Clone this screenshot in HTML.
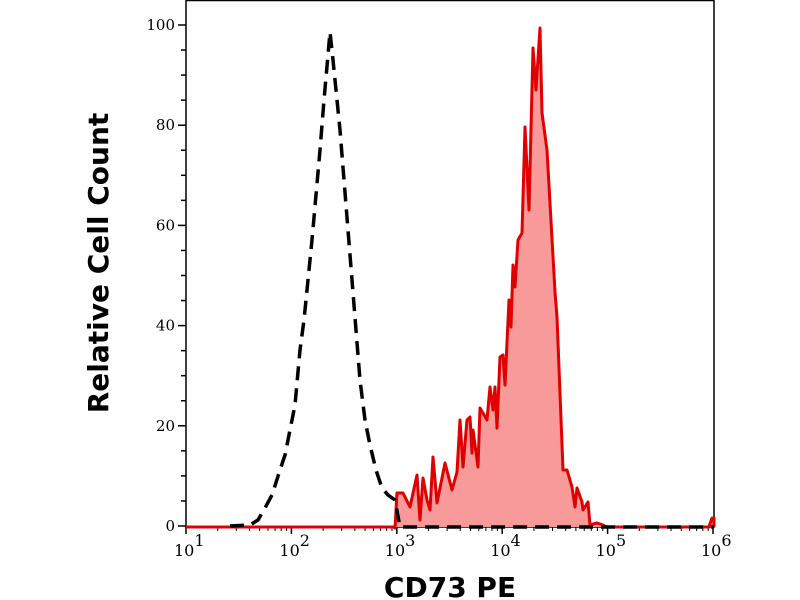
<!DOCTYPE html>
<html><head><meta charset="utf-8"><style>
html,body{margin:0;padding:0;background:#fff;width:800px;height:600px;overflow:hidden}
</style></head><body>
<svg id="s" width="800" height="600" xmlns="http://www.w3.org/2000/svg">
<rect x="186" y="0.5" width="528" height="526.5" fill="none" stroke="#000" stroke-width="1.5"/>
<g id="ax"></g>
<polygon id="fill" fill="#f99a9a" stroke="none"/>
<polyline id="red" fill="none" stroke="#e00000" stroke-width="3" stroke-linejoin="round"/>
<polyline id="blk" fill="none" stroke="#000" stroke-width="3.5" stroke-dasharray="14,8"/>
<text x="450" y="597" font-family="DejaVu Sans, Liberation Sans, sans-serif" font-weight="bold" font-size="28" text-anchor="middle">CD73 PE</text>
<text transform="translate(108,263) rotate(-90)" font-family="DejaVu Sans, Liberation Sans, sans-serif" font-weight="bold" font-size="28" text-anchor="middle">Relative Cell Count</text>
</svg>
<script>
var ns="http://www.w3.org/2000/svg",ax=document.getElementById('ax');
function el(t,a,txt){var e=document.createElementNS(ns,t);for(var k in a)e.setAttribute(k,a[k]);if(txt!=null)e.textContent=txt;ax.appendChild(e);return e;}
var B=526;
for(var v=0;v<=100;v+=5){var y=B-v*5.01;el('line',{x1:v%20?181:178,x2:186,y1:y,y2:y,stroke:'#000','stroke-width':1.5});
 if(v%20==0)el('text',{x:175,y:y+5,'text-anchor':'end','font-family':'DejaVu Serif, Liberation Serif, serif','font-size':15},v);}
function X(l){return 186+(l-1)*105.4;}
for(var d=1;d<=6;d++){var x=X(d);el('line',{x1:x,x2:x,y1:527,y2:534,stroke:'#000','stroke-width':1.5});
 var t=el('text',{x:x-12,y:556,'font-family':'DejaVu Serif, Liberation Serif, serif','font-size':16});
 t.innerHTML='10<tspan dy="-10" font-size="16">'+d+'</tspan>';
 if(d<6)for(var m=2;m<10;m++){var xm=X(d+Math.log10(m));el('line',{x1:xm,x2:xm,y1:527,y2:531,stroke:'#000','stroke-width':1});}}
var r=[[186,527],[395,527],[395,528],[397,493],[403,493],[410,507],[417,475],[420,520],[423,478],[427,500],[430,510],[433,457],[437,503],[445,463],[452,490],[457,472],[460,420],[463,467],[467,420],[470,417],[472,453],[473,430],[478,467],[480,408],[487,420],[490,387],[493,410],[495,387],[497,428],[500,357],[503,355],[505,385],[509,300],[511,327],[513,265],[515,287],[518,240],[522,233],[525,127],[529,210],[533,48],[536,90],[540,28],[542,113],[547,150],[555,292],[557,317],[563,470],[567,470],[572,487],[575,507],[577,488],[582,502],[583,510],[588,502],[590,525],[597,523],[603,525],[606,527],[709,527],[712,518],[714,518],[714,527]];
var s=r.map(function(p){return p.join(',')}).join(' ');
document.getElementById('red').setAttribute('points',s);
document.getElementById('fill').setAttribute('points',s);
var b=[[230,526],[250,525],[258,520],[265,508],[272,495],[280,470],[285,455],[290,430],[295,405],[300,350],[304,320],[308,280],[312,240],[316,195],[320,150],[324,100],[328,55],[330,32],[333,60],[336,90],[340,130],[344,180],[348,230],[352,280],[356,330],[360,380],[365,420],[370,445],[376,470],[382,488],[388,495],[395,500],[400,527],[714,527]];
document.getElementById('blk').setAttribute('points',b.map(function(p){return p.join(',')}).join(' '));
</script>
</body></html>
